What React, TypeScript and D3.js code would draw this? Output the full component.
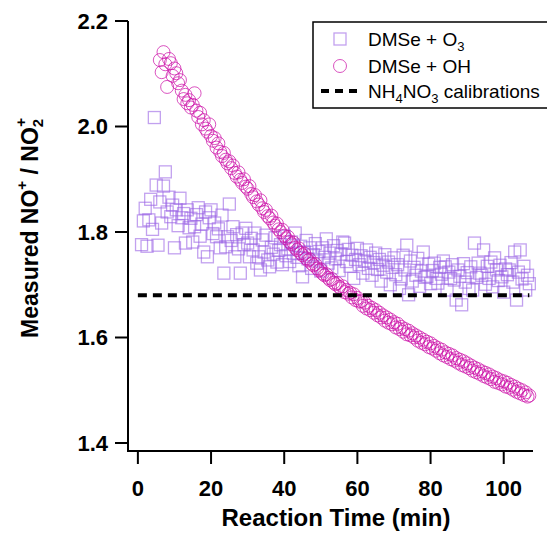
import React from "react";
import * as d3 from "d3";

// DMSe + OH (circles), sampled every 0.5 min starting at 6.0 min
const OH_START = 6.0;
const OH_STEP = 0.5;
const ohValues = [
  2.126, 2.103, 2.141, 2.118, 2.075, 2.128, 2.120, 2.096, 2.110, 2.101,
  2.082, 2.088, 2.068, 2.052, 2.060, 2.044, 2.050, 2.036, 2.041, 2.063,
  2.030, 2.018, 2.026, 2.004, 2.012, 1.996, 1.990, 2.004, 1.982, 1.973,
  1.978, 1.960, 1.968, 1.952, 1.944, 1.950, 1.937, 1.930, 1.934, 1.921,
  1.926, 1.912, 1.905, 1.913, 1.899, 1.893, 1.900, 1.886, 1.882, 1.887,
  1.872, 1.866, 1.870, 1.858, 1.852, 1.860, 1.845, 1.838, 1.842, 1.830,
  1.826, 1.831, 1.818, 1.812, 1.816, 1.805, 1.800, 1.804, 1.793, 1.788,
  1.791, 1.781, 1.777, 1.780, 1.770, 1.766, 1.769, 1.760, 1.756, 1.759,
  1.750, 1.746, 1.748, 1.740, 1.737, 1.739, 1.731, 1.727, 1.729, 1.721,
  1.718, 1.720, 1.713, 1.709, 1.711, 1.704, 1.701, 1.703, 1.696, 1.693,
  1.697, 1.686, 1.690, 1.683, 1.685, 1.676, 1.682, 1.671, 1.675, 1.668,
  1.669, 1.660, 1.666, 1.655, 1.660, 1.652, 1.656, 1.647, 1.652, 1.642,
  1.647, 1.638, 1.642, 1.632, 1.638, 1.628, 1.634, 1.625, 1.629, 1.619,
  1.626, 1.616, 1.620, 1.611, 1.616, 1.606, 1.613, 1.604, 1.608, 1.600,
  1.604, 1.594, 1.600, 1.590, 1.596, 1.587, 1.592, 1.582, 1.589, 1.579,
  1.584, 1.575, 1.580, 1.570, 1.577, 1.566, 1.572, 1.563, 1.569, 1.559,
  1.566, 1.556, 1.561, 1.552, 1.558, 1.548, 1.555, 1.545, 1.551, 1.542,
  1.547, 1.537, 1.543, 1.534, 1.540, 1.531, 1.536, 1.527, 1.533, 1.524,
  1.530, 1.521, 1.526, 1.516, 1.523, 1.514, 1.519, 1.511, 1.517, 1.507,
  1.514, 1.505, 1.510, 1.501, 1.507, 1.497, 1.503, 1.494, 1.500, 1.491,
  1.496, 1.488, 1.490,
];

// DMSe + O3 (squares), sampled every 0.5 min starting at 1.0 min
const O3_START = 1.0;
const O3_STEP = 0.5;
const o3Values = [
  1.776, 1.821, 1.845, 1.773, 1.823, 1.862, 1.805, 2.017, 1.889, 1.775,
  1.857, 1.817, 1.887, 1.914, 1.838, 1.866, 1.829, 1.851, 1.770, 1.842,
  1.812, 1.864, 1.827, 1.835, 1.779, 1.842, 1.808, 1.826, 1.781, 1.810,
  1.833, 1.846, 1.792, 1.815, 1.762, 1.838, 1.753, 1.827, 1.842, 1.797,
  1.817, 1.791, 1.806, 1.770, 1.832, 1.722, 1.772, 1.791, 1.853, 1.784,
  1.810, 1.753, 1.795, 1.768, 1.722, 1.798, 1.776, 1.807, 1.779, 1.753,
  1.788, 1.766, 1.798, 1.741, 1.753, 1.728, 1.785, 1.762, 1.794, 1.747,
  1.734, 1.771, 1.758, 1.789, 1.743, 1.765, 1.776, 1.738, 1.792, 1.755,
  1.768, 1.744, 1.781, 1.760, 1.798, 1.752, 1.736, 1.773, 1.715, 1.762,
  1.784, 1.749, 1.770, 1.731, 1.757, 1.778, 1.745, 1.763, 1.726, 1.770,
  1.752, 1.787, 1.741, 1.760, 1.732, 1.774, 1.749, 1.765, 1.727, 1.758,
  1.781, 1.779, 1.744, 1.767, 1.735, 1.756, 1.712, 1.748, 1.769, 1.738,
  1.755, 1.722, 1.745, 1.766, 1.731, 1.752, 1.718, 1.742, 1.760, 1.729,
  1.748, 1.707, 1.737, 1.757, 1.724, 1.743, 1.700, 1.733, 1.751, 1.719,
  1.738, 1.693, 1.711, 1.756, 1.728, 1.775, 1.681, 1.745, 1.707, 1.733,
  1.718, 1.750, 1.697, 1.726, 1.762, 1.714, 1.716, 1.739, 1.702, 1.727,
  1.741, 1.712, 1.703, 1.733, 1.720, 1.745, 1.734, 1.690, 1.724, 1.712,
  1.738, 1.709, 1.671, 1.728, 1.716, 1.662, 1.740, 1.705, 1.723, 1.693,
  1.734, 1.690, 1.779, 1.714, 1.741, 1.722, 1.718, 1.766, 1.701, 1.735,
  1.712, 1.743, 1.696, 1.751, 1.728, 1.708, 1.737, 1.715, 1.686, 1.730,
  1.719, 1.728, 1.742, 1.705, 1.762, 1.671, 1.724, 1.766, 1.711, 1.735,
  1.690, 1.718, 1.702,
];

// NH4NO3 calibration ratio
const calibValue = 1.68;
const calibRange = [0, 107];

const xTicks = [0, 20, 40, 60, 80, 100];
const yTicks = [1.4, 1.6, 1.8, 2.0, 2.2];

const W = 547;
const H = 535;
const O3_COLOR = "#9a62e4";
const OH_COLOR = "#cc10a8";
const FONT = "Liberation Sans, Arial, sans-serif";

export default function App() {
  const x = d3.scaleLinear().domain([-2.7, 108]).range([128, 533]);
  const y = d3.scaleLinear().domain([1.4, 2.2]).range([443, 21]);
  const axisLeft = 128;
  const axisBottom = 451;
  const axisTop = 21;
  const axisRight = 533;

  const o3 = o3Values.map((v, i) => ({ t: O3_START + i * O3_STEP, v }));
  const oh = ohValues.map((v, i) => ({ t: OH_START + i * OH_STEP, v }));
  const sq = 12;

  const calibPath = d3.line<number>()
    .x((t) => x(t))
    .y(() => y(calibValue))(calibRange);

  return (
    <svg
      width={W}
      height={H}
      viewBox={`0 0 ${W} ${H}`}
      style={{ position: "absolute", left: 0, top: 0, background: "#fff" }}
      fontFamily={FONT}
    >
      <rect x={0} y={0} width={W} height={H} fill="#fff" />

      {/* O3 squares */}
      <g fill="none" stroke={O3_COLOR} strokeWidth={1.3} strokeOpacity={0.6}>
        {o3.map((d, i) => (
          <rect key={i} x={x(d.t) - sq / 2} y={y(d.v) - sq / 2} width={sq} height={sq} />
        ))}
      </g>

      {/* OH circles */}
      <g fill="none" stroke={OH_COLOR} strokeWidth={1} strokeOpacity={0.72}>
        {oh.map((d, i) => (
          <circle key={i} cx={x(d.t)} cy={y(d.v)} r={6.5} />
        ))}
      </g>

      {/* calibration line */}
      <path d={calibPath || ""} stroke="#000" strokeWidth={4} strokeDasharray="9,6" fill="none" />

      {/* axes */}
      <g stroke="#000" strokeWidth={2} fill="none">
        <line x1={axisLeft} y1={axisTop} x2={axisLeft} y2={axisBottom} />
        <line x1={axisLeft - 1} y1={axisBottom} x2={axisRight} y2={axisBottom} />
        {yTicks.map((t) => (
          <line key={t} x1={axisLeft - 13} y1={y(t)} x2={axisLeft} y2={y(t)} />
        ))}
        {xTicks.map((t) => (
          <line key={t} x1={x(t)} y1={axisBottom} x2={x(t)} y2={axisBottom + 13} />
        ))}
      </g>
      <g fontWeight="bold" fontSize={22} fill="#000">
        {yTicks.map((t) => (
          <text key={t} x={108} y={y(t)} dy="0.36em" textAnchor="end">
            {t.toFixed(1)}
          </text>
        ))}
        {xTicks.map((t) => (
          <text key={t} x={x(t)} y={496} textAnchor="middle">
            {t}
          </text>
        ))}
      </g>
      <text x={336} y={526} textAnchor="middle" fontWeight="bold" fontSize={24}>
        Reaction Time (min)
      </text>
      <text
        transform={`translate(38, 228) rotate(-90)`}
        textAnchor="middle"
        fontWeight="bold"
        fontSize={23}
      >
        Measured NO
        <tspan fontSize={15} dy={-11}>+</tspan>
        <tspan dy={11}> / NO</tspan>
        <tspan fontSize={15} dy={5}>2</tspan>
        <tspan fontSize={15} dx={-8} dy={-17}>+</tspan>
      </text>

      {/* legend */}
      <rect x={313} y={22} width={250} height={86} fill="#fff" stroke="#000" strokeWidth={1.5} />
      <rect x={334} y={33} width={12} height={12} fill="none" stroke={O3_COLOR} strokeWidth={1.3} strokeOpacity={0.6} />
      <circle cx={340} cy={66} r={6.5} fill="none" stroke={OH_COLOR} strokeWidth={1} strokeOpacity={0.72} />
      <line x1={321} y1={91} x2={359} y2={91} stroke="#000" strokeWidth={4} strokeDasharray="8,6" />
      <g fontSize={19} fill="#000">
        <text x={368} y={46}>
          DMSe + O<tspan fontSize={13} dy={5}>3</tspan>
        </text>
        <text x={368} y={73}>DMSe + OH</text>
        <text x={368} y={98}>
          NH<tspan fontSize={13} dy={5}>4</tspan>
          <tspan dy={-5}>NO</tspan>
          <tspan fontSize={13} dy={5}>3</tspan>
          <tspan dy={-5}> calibrations</tspan>
        </text>
      </g>
    </svg>
  );
}
